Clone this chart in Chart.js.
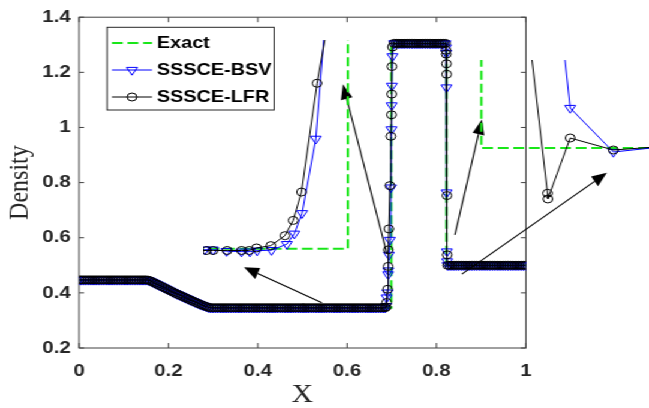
<!DOCTYPE html>
<html>
<head>
<meta charset="utf-8">
<script src="https://cdn.jsdelivr.net/npm/chart.js@4.4.1/dist/chart.umd.min.js"></script>
<style>
  html, body { margin: 0; padding: 0; background: #fff; overflow: hidden; }
  /* the figure is laid out narrow and widened horizontally as a whole */
  #stage { position: relative; width: 541px; height: 408px; transform: scaleX(1.1996); transform-origin: 0 0; }
  #stage canvas { position: absolute; }
</style>
</head>
<body>
<div id="stage">
  <canvas id="main" width="541" height="408" style="left:0;top:0;width:541px;height:408px"></canvas>
  <canvas id="zoomContact" width="133" height="222" style="left:169px;top:40px;width:133px;height:222px"></canvas>
  <canvas id="zoomShock" width="153" height="168" style="left:388px;top:60px;width:153px;height:168px"></canvas>
</div>
<script>
// ---------- Lax shock tube, density at t = 0.13 ----------
const meshX = [
  0,0.005,0.01,0.015,0.02,0.025,0.03,0.035,0.04,0.045,
  0.05,0.055,0.06,0.065,0.07,0.075,0.08,0.085,0.09,0.095,
  0.1,0.105,0.11,0.115,0.12,0.125,0.13,0.135,0.14,0.145,
  0.15,0.155,0.16,0.165,0.17,0.175,0.18,0.185,0.19,0.195,
  0.2,0.205,0.21,0.215,0.22,0.225,0.23,0.235,0.24,0.245,
  0.25,0.255,0.26,0.265,0.27,0.275,0.28,0.285,0.29,0.295,
  0.3,0.305,0.31,0.315,0.32,0.325,0.33,0.335,0.34,0.345,
  0.35,0.355,0.36,0.365,0.37,0.375,0.38,0.385,0.39,0.395,
  0.4,0.405,0.41,0.415,0.42,0.425,0.43,0.435,0.44,0.445,
  0.45,0.455,0.46,0.465,0.47,0.475,0.48,0.485,0.49,0.495,
  0.5,0.505,0.51,0.515,0.52,0.525,0.53,0.535,0.54,0.545,
  0.55,0.555,0.56,0.565,0.57,0.575,0.58,0.585,0.59,0.595,
  0.6,0.605,0.61,0.615,0.62,0.625,0.63,0.635,0.64,0.645,
  0.65,0.655,0.66,0.665,0.67,0.675,0.68,0.685,
  0.6875,0.6885,0.6905,0.6918,0.6922,0.6935,0.6957,0.698,0.6993,0.6997,0.7002,0.7015,
  0.705,0.71,0.715,0.72,0.725,0.73,0.735,0.74,0.745,0.75,0.755,0.76,
  0.765,0.77,0.775,0.78,0.785,0.79,0.795,0.8,0.805,0.81,0.815,0.82,
  0.8212,0.8218,0.8224,0.8228,0.8234,0.824,
  0.825,0.83,0.835,0.84,0.845,0.85,0.855,0.86,0.865,0.87,0.875,0.88,
  0.885,0.89,0.895,0.9,0.905,0.91,0.915,0.92,0.925,0.93,0.935,0.94,
  0.945,0.95,0.955,0.96,0.965,0.97,0.975,0.98,0.985,0.99,0.995,1
];
const lfrRho = [
  0.447,0.447,0.447,0.447,0.447,0.447,0.447,0.447,0.447,0.447,
  0.447,0.447,0.447,0.447,0.447,0.447,0.447,0.447,0.447,0.447,
  0.447,0.447,0.447,0.447,0.447,0.447,0.447,0.447,0.447,0.447,
  0.447,0.446,0.443,0.439,0.435,0.431,0.427,0.423,0.419,0.415,
  0.411,0.407,0.403,0.399,0.395,0.392,0.388,0.384,0.381,0.377,
  0.373,0.370,0.366,0.363,0.359,0.356,0.353,0.350,0.347,0.346,
  0.346,0.346,0.346,0.346,0.346,0.346,0.346,0.346,0.346,0.346,
  0.346,0.346,0.346,0.346,0.346,0.346,0.346,0.346,0.346,0.346,
  0.346,0.346,0.346,0.346,0.346,0.346,0.346,0.346,0.346,0.346,
  0.346,0.346,0.346,0.346,0.346,0.346,0.346,0.346,0.346,0.346,
  0.346,0.346,0.346,0.346,0.346,0.346,0.346,0.346,0.346,0.346,
  0.346,0.346,0.346,0.346,0.346,0.346,0.346,0.346,0.346,0.346,
  0.346,0.346,0.346,0.346,0.346,0.346,0.346,0.346,0.346,0.346,
  0.346,0.346,0.346,0.346,0.346,0.346,0.346,0.346,
  0.349,0.365,0.413,0.496,0.556,0.632,0.789,0.968,1.046,1.121,1.221,1.292,
  1.305,1.305,1.305,1.305,1.305,1.305,1.305,1.305,1.305,1.305,1.305,1.305,
  1.305,1.305,1.305,1.305,1.305,1.305,1.305,1.305,1.305,1.305,1.305,1.305,
  1.280,1.266,1.231,1.193,0.753,0.538,
  0.5,0.5,0.5,0.5,0.5,0.5,0.5,0.5,0.5,0.5,0.5,0.5,
  0.5,0.5,0.5,0.5,0.5,0.5,0.5,0.5,0.5,0.5,0.5,0.5,
  0.5,0.5,0.5,0.5,0.5,0.5,0.5,0.5,0.5,0.5,0.5,0.5
];
const bsvRho = [
  0.447,0.447,0.447,0.447,0.447,0.447,0.447,0.447,0.447,0.447,
  0.447,0.447,0.447,0.447,0.447,0.447,0.447,0.447,0.447,0.447,
  0.447,0.447,0.447,0.447,0.447,0.447,0.447,0.447,0.447,0.447,
  0.447,0.446,0.443,0.439,0.435,0.431,0.427,0.423,0.419,0.415,
  0.411,0.407,0.403,0.399,0.395,0.392,0.388,0.384,0.381,0.377,
  0.373,0.370,0.366,0.363,0.359,0.356,0.353,0.350,0.347,0.346,
  0.346,0.346,0.346,0.346,0.346,0.346,0.346,0.346,0.346,0.346,
  0.346,0.346,0.346,0.346,0.346,0.346,0.346,0.346,0.346,0.346,
  0.346,0.346,0.346,0.346,0.346,0.346,0.346,0.346,0.346,0.346,
  0.346,0.346,0.346,0.346,0.346,0.346,0.346,0.346,0.346,0.346,
  0.346,0.346,0.346,0.346,0.346,0.346,0.346,0.346,0.346,0.346,
  0.346,0.346,0.346,0.346,0.346,0.346,0.346,0.346,0.346,0.346,
  0.346,0.346,0.346,0.346,0.346,0.346,0.346,0.346,0.346,0.346,
  0.346,0.346,0.346,0.346,0.346,0.346,0.346,0.346,
  0.352,0.383,0.401,0.467,0.481,0.538,0.592,0.782,0.993,1.080,1.151,1.258,
  1.305,1.305,1.305,1.305,1.305,1.305,1.305,1.305,1.305,1.305,1.305,1.305,
  1.305,1.305,1.305,1.305,1.305,1.305,1.305,1.305,1.305,1.305,1.305,1.305,
  1.290,1.270,1.145,0.764,0.550,0.514,
  0.5,0.5,0.5,0.5,0.5,0.5,0.5,0.5,0.5,0.5,0.5,0.5,
  0.5,0.5,0.5,0.5,0.5,0.5,0.5,0.5,0.5,0.5,0.5,0.5,
  0.5,0.5,0.5,0.5,0.5,0.5,0.5,0.5,0.5,0.5,0.5,0.5
];
const exactX   = [0, 0.152, 0.17, 0.19, 0.21, 0.23, 0.25, 0.27, 0.292, 0.699, 0.699, 0.8223, 0.8223, 1];
const exactRho = [0.447, 0.447, 0.435, 0.419, 0.403, 0.388, 0.373, 0.359, 0.346, 0.346, 1.305, 1.305, 0.5, 0.5];

// close-up of the contact discontinuity
const contactLfrX   = [0.6803,0.68126,0.68209,0.68385,0.68566,0.68661,0.68754,0.68933,0.69109,0.69213,0.69318,0.69514,0.69711];
const contactLfrRho = [0.344,0.344,0.344,0.344,0.344,0.344,0.3471,0.3499,0.362,0.3806,0.4151,0.5474,0.6547];
const contactBsvX   = [0.68005,0.68105,0.68209,0.68377,0.68566,0.6867,0.68761,0.68942,0.69134,0.69228,0.69326,0.69498,0.69648];
const contactBsvRho = [0.345,0.345,0.345,0.3432,0.3426,0.3426,0.3438,0.3444,0.3517,0.3644,0.3893,0.4798,0.6607];
const contactExactX   = [0.66, 0.699, 0.699, 0.72];
const contactExactRho = [0.346, 0.346, 1.305, 1.305];

// close-up of the shock
const shockLfrX   = [0.8278, 0.83059, 0.83063, 0.83343, 0.83884, 0.84418];
const shockLfrRho = [0.6825, 0.4434, 0.4363, 0.5125, 0.4975, 0.5013];
const shockBsvX   = [0.83059, 0.83343, 0.83884, 0.84418];
const shockBsvRho = [0.81, 0.55, 0.495, 0.5006];
const shockExactX   = [0.80, 0.8223, 0.8223, 0.86];
const shockExactRho = [1.305, 1.305, 0.5, 0.5];

const seriesNames = ['Exact', 'SSSCE-BSV', 'SSSCE-LFR'];
const xTicks = [0, 0.2, 0.4, 0.6, 0.8, 1];
const yTicks = [0.2, 0.4, 0.6, 0.8, 1, 1.2, 1.4];

// annotation arrows, in main-axis units: feature -> close-up
const arrowLinks = [
  { from: [0.5436, 0.3643], to: [0.3691, 0.4929] },
  { from: [0.6890, 0.5429], to: [0.5906, 1.1571] },
  { from: [0.8412, 0.6107], to: [0.9016, 1.0286] },
  { from: [0.8568, 0.4679], to: [1.1812, 0.8357] }
];

// ---------- styling ----------
const X_STRETCH = 1.1996;
const GREEN = '#19e619', BLUE = '#0000ff', BLACK = '#000000';
const AXIS_COLOR = '#404040';
const TEXT_COLOR = '#262626';

const toPoints = (xs, ys) => xs.map((x, i) => ({ x, y: ys[i] }));
const tickText = v => String(Number(v.toFixed(3)));

function makeDatasets(ex, ey, bx, by, lx, ly) {
  return [
    { label: seriesNames[0], data: toPoints(ex, ey), borderColor: GREEN, borderWidth: 2,
      borderDash: [9, 4], pointRadius: 0, order: 3 },
    { label: seriesNames[1], data: toPoints(bx, by), borderColor: BLUE, borderWidth: 1,
      pointStyle: 'triangle', pointRotation: 180, pointRadius: 5.2, pointBorderWidth: 1,
      pointBorderColor: BLUE, pointBackgroundColor: 'rgba(0,0,0,0)', order: 2 },
    { label: seriesNames[2], data: toPoints(lx, ly), borderColor: BLACK, borderWidth: 1,
      pointStyle: 'circle', pointRadius: 4, pointBorderWidth: 1,
      pointBorderColor: BLACK, pointBackgroundColor: 'rgba(0,0,0,0)', order: 1 }
  ];
}

// box around the plot with inward tick marks on all four sides
const axesFrame = {
  id: 'axesFrame',
  beforeDatasetsDraw(chart) {
    const { ctx, chartArea: a, scales: { x, y } } = chart;
    ctx.save();
    ctx.strokeStyle = AXIS_COLOR;
    ctx.lineWidth = 1;
    ctx.strokeRect(a.left, a.top, a.right - a.left, a.bottom - a.top);
    ctx.beginPath();
    x.ticks.forEach(t => {
      const px = x.getPixelForValue(t.value);
      ctx.moveTo(px, a.bottom); ctx.lineTo(px, a.bottom - 5);
      ctx.moveTo(px, a.top); ctx.lineTo(px, a.top + 5);
    });
    y.ticks.forEach(t => {
      const py = y.getPixelForValue(t.value);
      ctx.moveTo(a.left, py); ctx.lineTo(a.left + 5 / X_STRETCH, py);
      ctx.moveTo(a.right, py); ctx.lineTo(a.right - 5 / X_STRETCH, py);
    });
    ctx.stroke();
    ctx.restore();
  }
};

function markerPath(ctx, style, x, y, r) {
  ctx.beginPath();
  if (style === 'circle') {
    ctx.arc(x, y, r, 0, Math.PI * 2);
  } else {
    const s = Math.sin(Math.PI / 3) * r;
    ctx.moveTo(x, y + r);
    ctx.lineTo(x - s, y - r / 2);
    ctx.lineTo(x + s, y - r / 2);
    ctx.closePath();
  }
}

const legendBox = {
  id: 'legendBox',
  afterDatasetsDraw(chart) {
    const ctx = chart.ctx;
    const L = 89.2, T = 27.3, R = 228.5, B = 110;
    ctx.save();
    ctx.fillStyle = '#ffffff';
    ctx.fillRect(L, T, R - L, B - T);
    ctx.strokeStyle = TEXT_COLOR;
    ctx.lineWidth = 1;
    ctx.strokeRect(L, T, R - L, B - T);
    chart.data.datasets.forEach((ds, i) => {
      const yy = 43 + i * 27;
      ctx.strokeStyle = ds.borderColor;
      ctx.lineWidth = ds.borderWidth;
      ctx.setLineDash(ds.borderDash || []);
      ctx.beginPath(); ctx.moveTo(93.3, yy); ctx.lineTo(126.7, yy); ctx.stroke();
      ctx.setLineDash([]);
      if (ds.pointRadius) {
        ctx.lineWidth = ds.pointBorderWidth;
        ctx.strokeStyle = ds.pointBorderColor;
        markerPath(ctx, ds.pointStyle, 110, yy, ds.pointRadius);
        ctx.stroke();
      }
      ctx.fillStyle = '#000';
      ctx.font = 'bold 16.5px "Liberation Sans", Arial, sans-serif';
      ctx.textBaseline = 'middle';
      ctx.textAlign = 'left';
      ctx.fillText(ds.label, 130.8, yy);
    });
    ctx.restore();
  }
};

// arrowheads are shaped in displayed proportions so they survive the stretch
function drawArrow(ctx, x0, y0, x1, y1) {
  const HEAD_LEN = 15, HEAD_HALF = 6;
  const dx = (x1 - x0) * X_STRETCH, dy = y1 - y0;
  const len = Math.hypot(dx, dy), ux = dx / len, uy = dy / len;
  const bx = x1 * X_STRETCH - ux * HEAD_LEN, by = y1 - uy * HEAD_LEN;
  const nx = -uy * HEAD_HALF, ny = ux * HEAD_HALF;
  ctx.beginPath();
  ctx.moveTo(x0, y0);
  ctx.lineTo(bx / X_STRETCH, by);
  ctx.stroke();
  ctx.beginPath();
  ctx.moveTo(x1, y1);
  ctx.lineTo((bx + nx) / X_STRETCH, by + ny);
  ctx.lineTo((bx - nx) / X_STRETCH, by - ny);
  ctx.closePath();
  ctx.fill();
}

const arrows = {
  id: 'arrows',
  afterDraw(chart) {
    const { ctx, scales: { x, y } } = chart;
    ctx.save();
    ctx.strokeStyle = '#000';
    ctx.fillStyle = '#000';
    ctx.lineWidth = 1.1;
    arrowLinks.forEach(a => {
      drawArrow(ctx,
        x.getPixelForValue(a.from[0]), y.getPixelForValue(a.from[1]),
        x.getPixelForValue(a.to[0]), y.getPixelForValue(a.to[1]));
    });
    ctx.restore();
  }
};

const tickFont = { family: '"Liberation Sans", Arial, sans-serif', size: 17, weight: 'bold' };
const titleFont = { family: '"Liberation Serif", "Times New Roman", serif', size: 24, lineHeight: 1 };

new Chart(document.getElementById('main'), {
  type: 'line',
  data: { datasets: makeDatasets(exactX, exactRho, meshX, bsvRho, meshX, lfrRho) },
  options: {
    responsive: false, animation: false, devicePixelRatio: 1, events: [],
    layout: { autoPadding: false, padding: { left: 0, top: 12, right: 102.6, bottom: 0 } },
    elements: { line: { tension: 0 } },
    plugins: { legend: { display: false }, tooltip: { enabled: false } },
    scales: {
      x: {
        type: 'linear', min: xTicks[0], max: xTicks[xTicks.length - 1],
        afterBuildTicks: s => { s.ticks = xTicks.map(v => ({ value: v })); },
        ticks: { font: tickFont, color: TEXT_COLOR, padding: 13, maxRotation: 0, callback: tickText },
        grid: { display: false, drawTicks: false }, border: { display: false },
        title: { display: true, text: 'X', font: { ...titleFont, size: 25 }, color: TEXT_COLOR, padding: { top: 0, bottom: 0 } },
        afterFit: s => { s.height = 60; }
      },
      y: {
        type: 'linear', min: yTicks[0], max: yTicks[yTicks.length - 1],
        afterBuildTicks: s => { s.ticks = yTicks.map(v => ({ value: v })); },
        ticks: { font: tickFont, color: TEXT_COLOR, padding: 7, callback: tickText },
        grid: { display: false, drawTicks: false }, border: { display: false },
        title: { display: true, text: 'Density', font: titleFont, color: TEXT_COLOR, padding: { top: 4.7, bottom: 0 } },
        afterFit: s => { s.width = 65.9; }
      }
    }
  },
  plugins: [axesFrame, legendBox, arrows]
});

function closeUp(id, sets, xr, yr) {
  return new Chart(document.getElementById(id), {
    type: 'line',
    data: { datasets: sets },
    options: {
      responsive: false, animation: false, devicePixelRatio: 1, events: [],
      layout: { autoPadding: false, padding: 0 },
      elements: { line: { tension: 0 } },
      plugins: { legend: { display: false }, tooltip: { enabled: false } },
      scales: {
        x: { type: 'linear', display: false, min: xr[0], max: xr[1] },
        y: { type: 'linear', display: false, min: yr[0], max: yr[1] }
      }
    }
  });
}

closeUp('zoomContact',
  makeDatasets(contactExactX, contactExactRho, contactBsvX, contactBsvRho, contactLfrX, contactLfrRho),
  [0.6808, 0.7008], [0.33, 0.60]);
closeUp('zoomShock',
  makeDatasets(shockExactX, shockExactRho, shockBsvX, shockBsvRho, shockLfrX, shockLfrRho),
  [0.8203, 0.8433], [0.40, 0.61]);
</script>
</body>
</html>
